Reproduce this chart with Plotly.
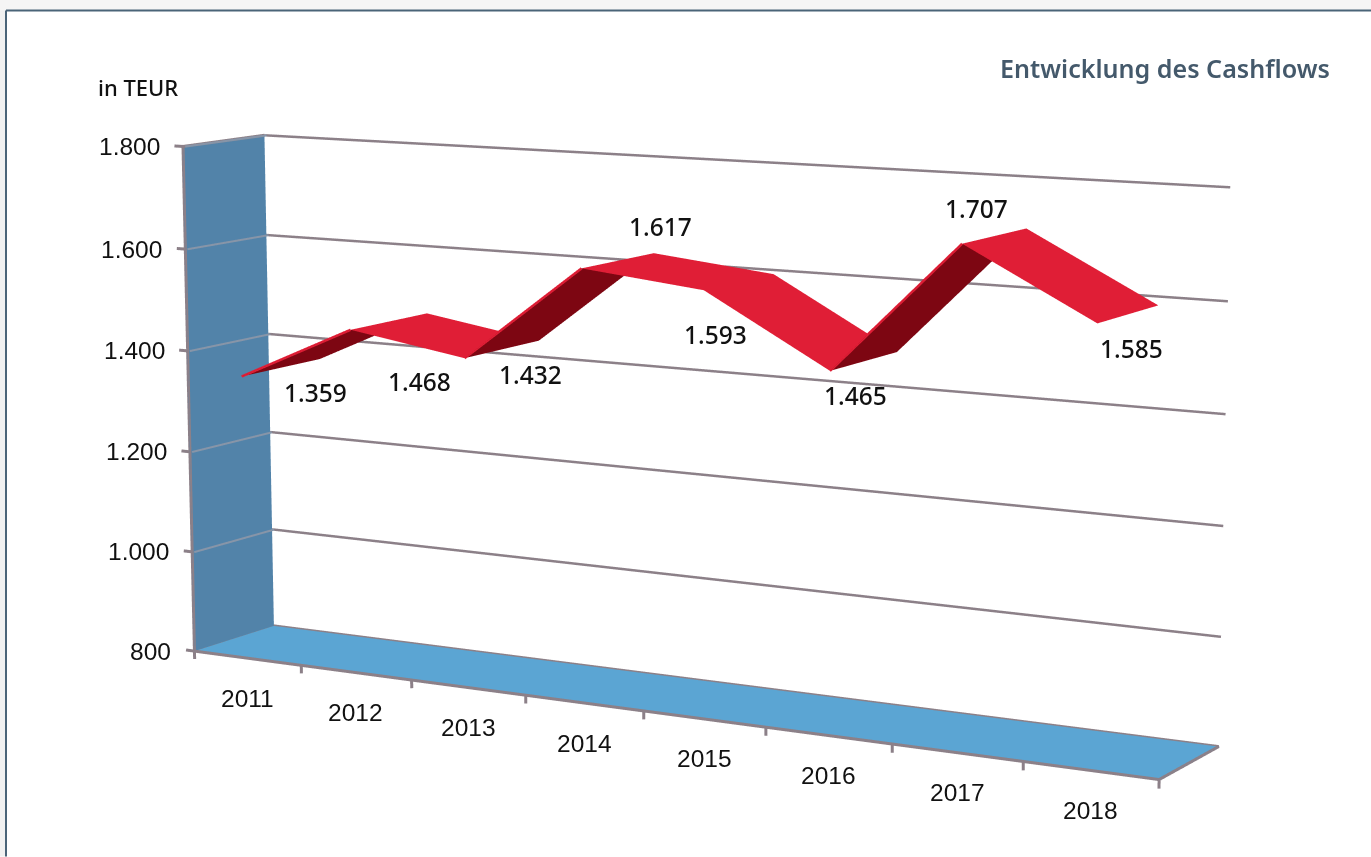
import plotly.graph_objects as go

# Cashflow per year, in TEUR
years = ["2011", "2012", "2013", "2014", "2015", "2016", "2017", "2018"]
cashflow = [1359, 1468, 1432, 1617, 1593, 1465, 1707, 1585]
z_ticks = [800, 1000, 1200, 1400, 1600, 1800]
z_tick_text = ["800", "1.000", "1.200", "1.400", "1.600", "1.800"]
value_text = ["1.359", "1.468", "1.432", "1.617", "1.593", "1.465", "1.707", "1.585"]

# Pixel nudges of the value labels, relative to the ribbon's front edge
label_offsets = [(74, -16), (69, -52), (66, -16), (79, 42), (12, -44), (25, -25), (14, 35), (34, -25)]

# Camera and box proportions of the 3D scene
EYE = dict(x=3.6417, y=-6.3299, z=1.227)
CENTER = dict(x=0.0091, y=0.0074, z=0.011)
UP = dict(x=-0.08, y=0.1434, z=0.9864)
BOX_X, BOX_Y = 2.0601, 0.2684

# Plotly's field of view is fixed, so a tall canvas gives the long lens; the page shows its central band
W, H = 1371, 3300
SHIFT = H / 2 - 428.5

X_RANGE = (-0.4, 8.4)
Y_RANGE = (-0.5, 1.5)
Z_RANGE = (750, 1850)

RED, DARK_RED = "#e01e36", "#7d0612"
GRID, INK = "#8c8088", "#111111"
FRAME = "#4a6478"


def px(v):
    return v / W


def py(v):
    return 1 - (v + SHIFT) / H


flat = dict(ambient=1, diffuse=0, specular=0, fresnel=0)
fig = go.Figure()

# Side wall and floor of the chart box
fig.add_trace(go.Mesh3d(x=[0, 0, 0, 0], y=[0, 1, 1, 0], z=[800, 800, 1800, 1800], i=[0, 0], j=[1, 2], k=[2, 3],
                        color="#5283a9", flatshading=True, lighting=flat))
fig.add_trace(go.Mesh3d(x=[0, 8, 8, 0], y=[0, 0, 1, 1], z=[800, 800, 800, 800], i=[0, 0], j=[1, 2], k=[2, 3],
                        color="#5ba5d3", flatshading=True, lighting=flat))

# Ribbon: one quad per year-to-year step, dark where we look at its underside
cat_x = [i + .5 for i in range(len(years))]
rx, ry, rz, fi, fj, fk, fc = [], [], [], [], [], [], []
for a, v in zip(cat_x, cashflow):
    rx += [a, a]
    ry += [0.0, 0.98]
    rz += [v, v]
ex, ey, ez = [], [], []
for s in range(len(years) - 1):
    b = 2 * s
    fi += [b, b]
    fj += [b + 1, b + 3]
    fk += [b + 3, b + 2]
    rising = cashflow[s + 1] > cashflow[s]
    col = DARK_RED if rising else RED
    fc += [col, col]
    if rising:
        ex += [cat_x[s], cat_x[s + 1], None]
        ey += [0, 0, None]
        ez += [cashflow[s], cashflow[s + 1], None]
fig.add_trace(go.Mesh3d(x=rx, y=ry, z=rz, i=fi, j=fj, k=fk, facecolor=fc, flatshading=True, lighting=flat))
fig.add_trace(go.Scatter3d(x=ex, y=ey, z=ez, mode="lines", line=dict(color=RED, width=5)))

# Gridlines on the back plane and, fainter, across the side wall
bx, by, bz, sx, sy, sz = [], [], [], [], [], []
for z in z_ticks[1:]:
    bx += [0, 8, None]
    by += [1, 1, None]
    bz += [z, z, None]
    sx += [0.02, 0.02, None]
    sy += [0, 1, None]
    sz += [z, z, None]
fig.add_trace(go.Scatter3d(x=bx, y=by, z=bz, mode="lines", line=dict(color=GRID, width=5)))
fig.add_trace(go.Scatter3d(x=sx, y=sy, z=sz, mode="lines", line=dict(color="#8795a8", width=4)))

# Axis edges and tick marks
ax, ay, az = [0, 0, None, 0, 8, 8, 0, 0, None, 0, 0], [0, 0, None, 0, 0, 1, 1, 0, None, 0, 1], [800, 1800, None, 800, 800, 800, 800, 800, None, 1800, 1800]
for z in z_ticks:
    ax += [None, -0.08, 0]
    ay += [None, 0, 0]
    az += [None, z, z]
for k in range(len(years) + 1):
    ax += [None, k, k]
    ay += [None, 0, 0]
    az += [None, 800, 784]
fig.add_trace(go.Scatter3d(x=ax, y=ay, z=az, mode="lines", line=dict(color=GRID, width=6)))

axis_font = dict(family="Liberation Sans", size=24.5, color=INK)
value_font = dict(family="Noto Sans", size=24.5, color=INK, weight=500)
anns = []
for t, z in zip(z_tick_text, z_ticks):
    anns.append(dict(x=0, y=0, z=z, text=t, showarrow=False, xanchor="right", xshift=-21, font=axis_font))
for t, a in zip(years, cat_x):
    anns.append(dict(x=a, y=0, z=800, text=t, showarrow=False, yshift=-40, font=axis_font))
for t, v, a, (dx, dy) in zip(value_text, cashflow, cat_x, label_offsets):
    anns.append(dict(x=a, y=0, z=v, text=t, showarrow=False, xshift=dx, yshift=dy, font=value_font))

hidden = dict(visible=False)
fig.update_layout(
    width=W, height=H, margin=dict(l=0, r=0, t=0, b=0), paper_bgcolor="white", showlegend=False,
    scene=dict(
        domain=dict(x=[0, 1], y=[0, 1]),
        xaxis=dict(hidden, range=list(X_RANGE)), yaxis=dict(hidden, range=list(Y_RANGE)), zaxis=dict(hidden, range=list(Z_RANGE)),
        aspectmode="manual",
        aspectratio=dict(x=BOX_X * (X_RANGE[1] - X_RANGE[0]) / 8, y=BOX_Y * (Y_RANGE[1] - Y_RANGE[0]),
                         z=(Z_RANGE[1] - Z_RANGE[0]) / 1000),
        camera=dict(eye=EYE, center=CENTER, up=UP),
        annotations=anns,
    ),
    shapes=[
        dict(type="rect", xref="paper", yref="paper", x0=px(0), x1=px(6), y0=py(0), y1=py(857), line=dict(width=0), fillcolor="#f1f1f1", layer="below"),
        dict(type="rect", xref="paper", yref="paper", x0=px(0), x1=px(1371), y0=py(0), y1=py(11), line=dict(width=0), fillcolor="#f5f5f5", layer="below"),
        dict(type="line", xref="paper", yref="paper", x0=px(6), x1=px(6), y0=py(11), y1=py(857), line=dict(color=FRAME, width=2)),
        dict(type="line", xref="paper", yref="paper", x0=px(6), x1=px(1371), y0=py(11), y1=py(11), line=dict(color=FRAME, width=2)),
    ],
    annotations=[
        dict(xref="paper", yref="paper", x=px(1332), y=py(68), text="Entwicklung des Cashflows", showarrow=False,
             xanchor="right", yanchor="middle", font=dict(family="Noto Sans", size=25.1, color="#44596b", weight=600)),
        dict(xref="paper", yref="paper", x=px(138), y=py(87), text="in TEUR", showarrow=False,
             xanchor="center", yanchor="middle", font=dict(family="Noto Sans", size=22, color=INK, weight=500)),
    ],
)
clip = ("document.documentElement.style.overflow='hidden';document.body.style.overflow='hidden';"
        "document.body.style.margin='0';document.getElementById('{plot_id}').style.marginTop='-%dpx';" % round(SHIFT))
fig.write_html("out.html", post_script=clip)
